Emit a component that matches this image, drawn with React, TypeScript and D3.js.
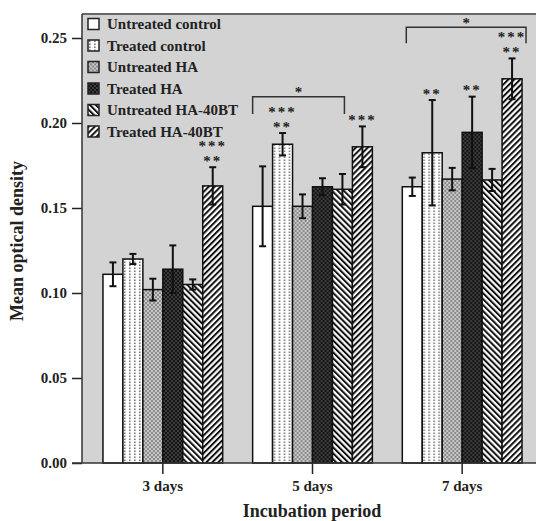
import React, { useRef, useEffect } from 'react';
import * as d3 from 'd3';

// groups on the x axis
const days = ['3 days', '5 days', '7 days'];
// legend / series names
const seriesNames = [
  'Untreated control',
  'Treated control',
  'Untreated HA',
  'Treated HA',
  'Untreated HA-40BT',
  'Treated HA-40BT',
];
// mean optical density per day, one value per series
const means3 = [0.111, 0.12, 0.102, 0.114, 0.105, 0.163];
const means5 = [0.151, 0.1875, 0.151, 0.1625, 0.161, 0.186];
const means7 = [0.1625, 0.1825, 0.167, 0.1945, 0.1665, 0.226];
// error bar half-lengths
const errs3 = [0.007, 0.003, 0.0064, 0.014, 0.003, 0.011];
const errs5 = [0.0235, 0.0066, 0.007, 0.005, 0.009, 0.012];
const errs7 = [0.0054, 0.031, 0.0066, 0.021, 0.0065, 0.012];
// significance stars: [day index, series index, lines top to bottom]
const stars: [number, number, string[]][] = [
  [0, 5, ['***', '**']],
  [1, 1, ['***', '**']],
  [1, 5, ['***']],
  [2, 1, ['**']],
  [2, 3, ['**']],
  [2, 5, ['***', '**']],
];
// brackets: [day index, start (bar units), end (bar units), top value, leg value]
const brackets: [number, number, number, number, number][] = [
  [1, 0, 4.6, 0.2155, 0.2053],
  [2, 0.2, 6.2, 0.2563, 0.2469],
];
const yTicks = [0, 0.05, 0.1, 0.15, 0.2, 0.25];

const W = 536, H = 521;
const left = 82, top = 14, bottom = 463;
const fill = ['#fff', 'url(#p1)', 'url(#p2)', 'url(#p3)', 'url(#p4)', 'url(#p5)'];
const font = '"Liberation Serif", "Times New Roman", serif';

const App = () => {
  const svgRef = useRef<SVGSVGElement>(null);

  useEffect(() => {
    const svg = d3.select(svgRef.current);
    svg.selectAll('*').remove();

    // patterns
    const defs = svg.append('defs');
    const p1 = defs.append('pattern').attr('id', 'p1').attr('patternUnits', 'userSpaceOnUse').attr('width', 5).attr('height', 3);
    p1.append('rect').attr('width', 5).attr('height', 3).attr('fill', '#fff');
    p1.append('rect').attr('x', 1).attr('y', 0.5).attr('width', 1.6).attr('height', 1.6).attr('fill', '#777');
    const p2 = defs.append('pattern').attr('id', 'p2').attr('patternUnits', 'userSpaceOnUse').attr('width', 4).attr('height', 4);
    p2.append('rect').attr('width', 4).attr('height', 4).attr('fill', '#c8c8c8');
    p2.append('rect').attr('width', 2).attr('height', 2).attr('fill', '#8a8a8a');
    p2.append('rect').attr('x', 2).attr('y', 2).attr('width', 2).attr('height', 2).attr('fill', '#8a8a8a');
    const p3 = defs.append('pattern').attr('id', 'p3').attr('patternUnits', 'userSpaceOnUse').attr('width', 4).attr('height', 4);
    p3.append('rect').attr('width', 4).attr('height', 4).attr('fill', '#151515');
    p3.append('rect').attr('width', 2).attr('height', 2).attr('fill', '#3c3c3c');
    p3.append('rect').attr('x', 2).attr('y', 2).attr('width', 2).attr('height', 2).attr('fill', '#3c3c3c');
    [['p4', -45], ['p5', 45]].forEach(([id, ang]) => {
      const p = defs.append('pattern').attr('id', id as string).attr('patternUnits', 'userSpaceOnUse')
        .attr('width', 4.2).attr('height', 4.2).attr('patternTransform', `rotate(${ang})`);
      p.append('rect').attr('width', 4.2).attr('height', 4.2).attr('fill', '#fff');
      p.append('rect').attr('width', 2).attr('height', 4.2).attr('fill', '#111');
    });

    const x = d3.scaleBand<string>().domain(days).range([88, 537]).paddingInner(0.2).paddingOuter(0.1);
    const xs = d3.scaleBand<number>().domain(d3.range(seriesNames.length)).range([0, x.bandwidth()]);
    const y = d3.scaleLinear().domain([0, 0.25]).range([bottom, 38]);

    // plot background
    svg.append('rect').attr('x', left).attr('y', top).attr('width', W - left).attr('height', bottom - top)
      .attr('fill', '#d3d3d3');
    svg.append('line').attr('x1', left).attr('x2', W).attr('y1', top).attr('y2', top)
      .attr('stroke', '#666').attr('stroke-width', 2);

    const all = [means3, means5, means7];
    const errs = [errs3, errs5, errs7];
    const bw = xs.bandwidth();

    days.forEach((d, di) => {
      const g = svg.append('g').attr('transform', `translate(${x(d)},0)`);
      g.selectAll('rect.bar')
        .data(all[di])
        .join('rect')
        .attr('class', 'bar')
        .attr('x', (v, i) => xs(i)!)
        .attr('width', bw)
        .attr('y', v => y(v))
        .attr('height', v => bottom - y(v))
        .attr('fill', (v, i) => fill[i])
        .attr('stroke', '#111')
        .attr('stroke-width', 1.5);
      const eb = g.selectAll('g.err').data(all[di]).join('g').attr('class', 'err')
        .attr('stroke', '#111').attr('stroke-width', 2);
      eb.append('line')
        .attr('x1', (v, i) => xs(i)! + bw / 2).attr('x2', (v, i) => xs(i)! + bw / 2)
        .attr('y1', (v, i) => y(v - errs[di][i])).attr('y2', (v, i) => y(v + errs[di][i]));
      eb.append('line')
        .attr('x1', (v, i) => xs(i)! + bw / 2 - 3.5).attr('x2', (v, i) => xs(i)! + bw / 2 + 3.5)
        .attr('y1', (v, i) => y(v + errs[di][i])).attr('y2', (v, i) => y(v + errs[di][i]));
      eb.append('line')
        .attr('x1', (v, i) => xs(i)! + bw / 2 - 3.5).attr('x2', (v, i) => xs(i)! + bw / 2 + 3.5)
        .attr('y1', (v, i) => y(v - errs[di][i])).attr('y2', (v, i) => y(v - errs[di][i]));
    });

    // stars
    stars.forEach(([di, si, lines]) => {
      const cx = x(days[di])! + xs(si)! + bw / 2;
      const topY = y(all[di][si] + errs[di][si]);
      lines.forEach((s, k) => {
        const cy = topY - 8 - (lines.length - 1 - k) * 15;
        svg.append('text').attr('x', cx).attr('y', cy + 6.5).attr('text-anchor', 'middle')
          .attr('font-family', font).attr('font-size', 15).attr('font-weight', 'bold')
          .attr('letter-spacing', 2).attr('fill', '#222').text(s);
      });
    });

    // brackets
    brackets.forEach(([di, a, b, t, l]) => {
      const x1 = x(days[di])! + a * bw, x2 = x(days[di])! + b * bw;
      svg.append('path')
        .attr('d', `M${x1},${y(l)}V${y(t)}H${x2}V${y(l)}`)
        .attr('fill', 'none').attr('stroke', '#333').attr('stroke-width', 1.5);
      svg.append('text').attr('x', (x1 + x2) / 2).attr('y', y(t) - 6 + 6.5).attr('text-anchor', 'middle')
        .attr('font-family', font).attr('font-size', 15).attr('font-weight', 'bold').attr('fill', '#222').text('*');
    });

    // axes
    const yAxis = d3.axisLeft(y).tickValues(yTicks).tickFormat(d3.format('.2f')).tickSize(10).tickPadding(5);
    svg.append('g').attr('transform', `translate(${left},0)`).call(yAxis)
      .call(g => g.select('.domain').remove())
      .call(g => g.selectAll('line').attr('stroke', '#222').attr('stroke-width', 1.5))
      .call(g => g.selectAll('text').attr('font-family', font).attr('font-size', 15).attr('font-weight', 'bold').attr('fill', '#222'));
    svg.append('line').attr('x1', left).attr('x2', left).attr('y1', top).attr('y2', bottom)
      .attr('stroke', '#333').attr('stroke-width', 1.5);

    const xAxis = d3.axisBottom(x).tickSize(11).tickPadding(6);
    svg.append('g').attr('transform', `translate(0,${bottom})`).call(xAxis)
      .call(g => g.select('.domain').remove())
      .call(g => g.selectAll('line').attr('stroke', '#222').attr('stroke-width', 1.5))
      .call(g => g.selectAll('text').attr('font-family', font).attr('font-size', 15).attr('font-weight', 'bold').attr('fill', '#222'));
    svg.append('line').attr('x1', left - 10).attr('x2', W).attr('y1', bottom).attr('y2', bottom)
      .attr('stroke', '#333').attr('stroke-width', 1.5);

    // titles
    svg.append('text').attr('transform', 'translate(23,241) rotate(-90)').attr('text-anchor', 'middle')
      .attr('font-family', font).attr('font-size', 18).attr('font-weight', 'bold').attr('fill', '#222')
      .text('Mean optical density');
    svg.append('text').attr('x', 312).attr('y', 517).attr('text-anchor', 'middle')
      .attr('font-family', font).attr('font-size', 18).attr('font-weight', 'bold').attr('fill', '#222')
      .text('Incubation period');

    // legend
    const lg = svg.append('g').attr('transform', 'translate(88,18.5)');
    const item = lg.selectAll('g').data(seriesNames).join('g')
      .attr('transform', (d, i) => `translate(0,${i * 21.5})`);
    item.append('rect').attr('width', 11).attr('height', 11).attr('fill', (d, i) => fill[i])
      .attr('stroke', '#222').attr('stroke-width', 1.5);
    item.append('text').attr('x', 19).attr('y', 10.5).attr('font-family', font).attr('font-size', 15)
      .attr('font-weight', 'bold').attr('fill', '#222').text(d => d);
  }, []);

  return (
    <svg ref={svgRef} width={W} height={H}
      style={{ position: 'absolute', left: 0, top: 0, display: 'block', background: '#fff' }} />
  );
};

export default App;
